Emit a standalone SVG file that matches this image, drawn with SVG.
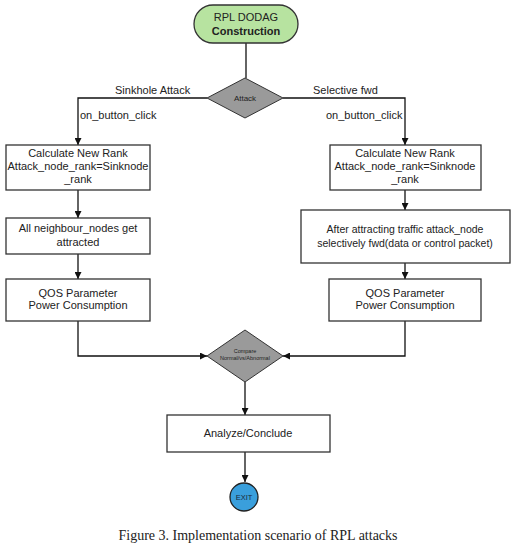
<svg xmlns="http://www.w3.org/2000/svg" width="516" height="551" viewBox="0 0 516 551">
<defs>
<marker id="ah" viewBox="0 0 10 10" refX="10" refY="5" markerWidth="7" markerHeight="7" orient="auto" markerUnits="userSpaceOnUse"><path d="M0,0 L10,5 L0,10 z" fill="#111"/></marker>
</defs>
<style>
.box{fill:#fff;stroke:#333;stroke-width:1.3}
.t{font-family:"Liberation Sans",Arial,sans-serif;font-size:11px;fill:#222;text-anchor:middle}
.lbl{font-family:"Liberation Sans",Arial,sans-serif;font-size:11px;fill:#222}
.c{fill:none;stroke:#111;stroke-width:1.3}
.dia{fill:#9a9a9a;stroke:#333;stroke-width:1}
</style>
<rect width="516" height="551" fill="#fff"/>
<g id="connectors">
<path class="c" d="M246,43 V78"/>
<path class="c" d="M207,98 H78 V145" marker-end="url(#ah)"/>
<path class="c" d="M283,98 H405 V145" marker-end="url(#ah)"/>
<path class="c" d="M78,190 V218" marker-end="url(#ah)"/>
<path class="c" d="M405,190 V210" marker-end="url(#ah)"/>
<path class="c" d="M78,254 V279" marker-end="url(#ah)"/>
<path class="c" d="M405,263 V279" marker-end="url(#ah)"/>
<path class="c" d="M78,321 V356 H207" marker-end="url(#ah)"/>
<path class="c" d="M405,321 V356 H283" marker-end="url(#ah)"/>
<path class="c" d="M245,382 V415" marker-end="url(#ah)"/>
<path class="c" d="M245,452 V482" marker-end="url(#ah)"/>
<text class="lbl" x="115" y="94">Sinkhole Attack</text>
<text class="lbl" x="313" y="94">Selective  fwd</text>
<text class="lbl" x="80" y="119">on_button_click</text>
<text class="lbl" x="326" y="119">on_button_click</text>
</g>
<g id="start">
<rect x="194" y="5" width="104" height="38" rx="19" ry="19" fill="#b7e3a0" stroke="#333" stroke-width="1.3"/>
<text class="t" x="246" y="21">RPL DODAG</text>
<text class="t" x="246" y="35" style="font-weight:bold">Construction</text>
</g>
<g id="attack">
<polygon class="dia" points="245,78 283,98 245,118 207,98"/>
<text class="t" x="245" y="101" style="font-size:8px">Attack</text>
</g>
<g id="calc-left">
<rect class="box" x="6" y="145" width="144" height="45"/>
<text class="t" x="78" y="157">Calculate New Rank</text>
<text class="t" x="78" y="170">Attack_node_rank=Sinknode</text>
<text class="t" x="78" y="183">_rank</text>
</g>
<g id="calc-right">
<rect class="box" x="330" y="145" width="151" height="45"/>
<text class="t" x="405" y="157">Calculate New Rank</text>
<text class="t" x="405" y="170">Attack_node_rank=Sinknode</text>
<text class="t" x="405" y="183">_rank</text>
</g>
<g id="attracted">
<rect class="box" x="6" y="218" width="144" height="36"/>
<text class="t" x="78" y="232">All neighbour_nodes get</text>
<text class="t" x="78" y="246">attracted</text>
</g>
<g id="selective">
<rect class="box" x="301" y="210" width="209" height="53"/>
<text class="t" x="405" y="233" style="font-size:10.5px">After attracting traffic attack_node</text>
<text class="t" x="405" y="247" style="font-size:10.5px">selectively fwd(data or control packet)</text>
</g>
<g id="qos-left">
<rect class="box" x="6" y="279" width="144" height="42"/>
<text class="t" x="78" y="297">QOS Parameter</text>
<text class="t" x="78" y="309">Power Consumption</text>
</g>
<g id="qos-right">
<rect class="box" x="329" y="279" width="152" height="42"/>
<text class="t" x="405" y="297">QOS Parameter</text>
<text class="t" x="405" y="309">Power Consumption</text>
</g>
<g id="compare">
<polygon class="dia" points="245,330 283,356 245,382 207,356"/>
<text class="t" x="245" y="353" style="font-size:5.5px">Compare</text>
<text class="t" x="245" y="360" style="font-size:5.5px">Normal/vs/Abnormal</text>
</g>
<g id="analyze">
<rect class="box" x="167" y="415" width="163" height="37"/>
<text class="t" x="248" y="437">Analyze/Conclude</text>
</g>
<g id="exit">
<circle cx="244" cy="497" r="14" fill="#3a9fdc" stroke="#222" stroke-width="1.3"/>
<text class="t" x="244" y="500" style="font-size:7.5px;fill:#1a2a3a">EXIT</text>
</g>
<text x="258" y="540" font-family="'Liberation Serif','Times New Roman',serif" font-size="14" fill="#222" text-anchor="middle">Figure 3. Implementation scenario of RPL attacks</text>
</svg>
